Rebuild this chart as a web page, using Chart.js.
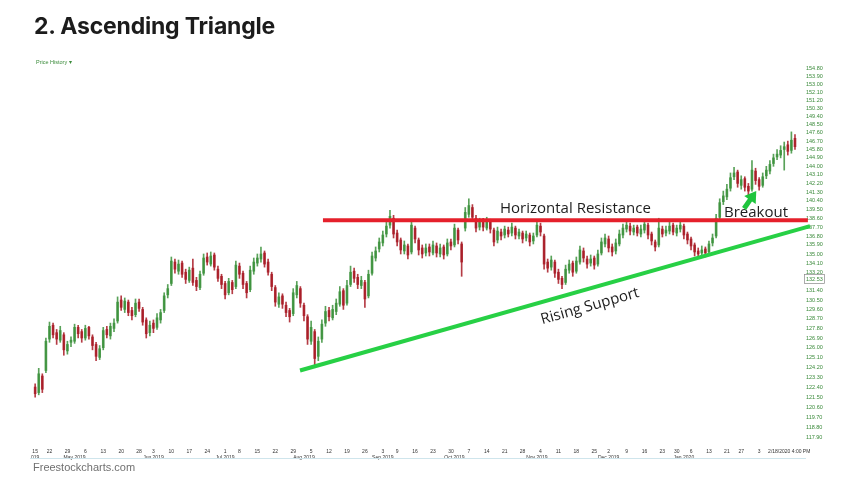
<!DOCTYPE html>
<html>
<head>
<meta charset="utf-8">
<title>2. Ascending Triangle</title>
<script src="https://cdn.jsdelivr.net/npm/chart.js@4.4.1/dist/chart.umd.min.js"></script>
<style>
  html, body { margin: 0; padding: 0; background: #fff; }
  #wrap { position: relative; width: 845px; height: 482px; overflow: hidden; }
  #title { position: absolute; left: 34px; top: 12px; font: 700 23px Inter, "Noto Sans", sans-serif; color: #1c1c1c; letter-spacing: -0.2px; }
  #ph { position: absolute; left: 36px; top: 59px; font: 5.5px "Liberation Sans", sans-serif; color: #3c8c3c; }
  #src { position: absolute; left: 33px; top: 461px; font: 11px "Liberation Sans", Arial, sans-serif; color: #707070; }
  canvas { position: absolute; left: 0; top: 0; }
</style>
</head>
<body>
<div id="wrap">
  <canvas id="chart" width="845" height="482"></canvas>
  <div id="title">2. Ascending Triangle</div>
  <div id="ph">Price History ▾</div>
  <div id="src">Freestockcharts.com</div>
</div>
<script>
// week start labels (day of month) and trading days in each week, Apr 15 2019 -> Feb 18 2020
var weekLabels = ['15','22','29','6','13','20','28','3','10','17','24','1','8','15','22','29','5','12','19','26',
  '3','9','16','23','30','7','14','21','28','4','11','18','25','2','9','16','23','30','6','13','21','27','3','',''];
var weekDays = [4,5,5,5,5,5,4,5,5,5,5,4,5,5,5,5,5,5,5,5,4,5,5,5,5,5,5,5,5,5,5,5,4,5,5,5,4,4,5,5,4,5,5,5,1];
var monthStarts = [0, 11, 33, 53, 75, 97, 117, 140, 160, 181];
var monthLabels = ['019','May 2019','Jun 2019','Jul 2019','Aug 2019','Sep 2019','Oct 2019','Nov 2019','Dec 2019','Jan 2020'];

var yTicks = [117.90,118.80,119.70,120.60,121.50,122.40,123.30,124.20,125.10,126.00,126.90,127.80,128.70,129.60,
  130.50,131.40,132.53,133.20,134.10,135.00,135.90,136.80,137.70,138.60,139.50,140.40,141.30,142.20,143.10,
  144.00,144.90,145.80,146.70,147.60,148.50,149.40,150.30,151.20,152.10,153.00,153.90,154.80];
var lastPrice = 132.53;

var opens = [122.4,121.9,123.4,123.9,126.8,128.1,127.4,126.7,127.2,125.7,126.5,126.6,127.9,127.5,126.9,127.9,127.0,126.3,125.1,126.0,
  127.7,127.1,127.8,128.5,130.5,129.6,130.3,129.5,129.1,130.3,129.6,128.6,127.4,128.3,127.9,128.6,129.5,131.0,132.1,134.2,
  133.3,134.1,133.2,132.4,133.6,132.4,131.7,133.1,134.7,134.0,134.9,133.5,132.8,132.1,131.2,132.2,131.8,133.8,133.1,132.1,
  131.5,133.3,134.1,134.5,135.1,134.2,133.0,131.7,130.1,130.9,130.0,129.5,129.2,131.0,131.6,130.0,128.9,126.6,127.5,125.2,
  126.8,128.3,129.5,128.8,129.4,130.1,131.4,130.2,132.0,133.3,132.7,131.9,132.2,130.9,133.1,134.6,135.5,136.1,137.0,137.9,
  138.6,137.1,136.4,135.3,135.8,135.2,137.6,136.4,135.6,135.1,135.7,135.1,135.8,135.0,135.7,135.0,136.2,135.9,137.4,136.0,
  137.6,139.0,139.7,138.6,137.7,138.3,137.6,138.2,137.4,136.4,137.2,136.9,137.4,137.1,137.6,136.8,137.1,136.6,136.9,136.3,
  136.9,137.8,136.8,134.2,133.7,134.2,133.2,132.6,132.2,133.4,134.1,133.3,134.2,135.3,134.5,134.1,134.6,134.0,135.1,136.0,
  136.5,135.7,135.3,136.0,136.9,137.5,137.8,137.2,137.7,137.0,137.4,137.9,137.0,136.2,135.9,137.5,137.1,137.3,137.9,137.1,
  137.5,137.8,137.0,136.5,135.9,135.3,135.1,135.5,135.2,136.1,136.8,138.7,140.3,140.8,141.7,142.9,143.4,142.0,142.7,141.9,
  141.6,143.5,142.6,142.0,143.0,143.5,144.3,145.0,145.2,145.8,146.3,145.7,147.0];
var highs = [122.7,124.1,123.6,126.9,128.4,128.3,127.7,128.0,127.4,126.6,127.0,128.2,128.1,127.7,128.1,128.0,127.2,126.5,126.2,127.9,
  128.0,128.3,128.7,130.8,130.9,130.7,130.5,129.8,130.6,130.6,129.8,128.8,128.5,128.6,129.2,129.6,131.2,132.0,134.7,134.5,
  134.4,134.3,133.5,133.7,134.5,132.7,133.3,135.0,135.1,135.2,135.1,133.8,133.0,132.3,132.6,132.4,134.3,134.1,133.3,132.3,
  133.8,134.6,135.0,135.7,135.3,134.5,133.2,131.9,131.2,131.1,130.3,129.7,131.6,132.3,131.8,130.2,129.1,128.5,127.7,127.0,
  128.6,129.9,129.8,130.0,130.6,131.8,131.6,132.4,133.8,133.6,133.0,132.8,132.4,133.4,135.2,135.7,136.6,137.3,138.3,139.4,
  138.9,137.4,136.6,136.3,136.0,138.4,137.8,136.6,135.9,136.0,136.0,136.3,136.1,136.0,135.9,136.5,136.5,138.0,137.6,136.2,
  139.7,140.6,140.0,138.9,138.6,138.6,138.7,138.5,137.6,137.7,137.5,137.8,137.7,138.1,137.8,137.5,137.3,137.3,137.1,137.1,
  138.4,138.1,137.0,134.5,134.8,134.4,133.5,132.8,133.9,134.4,134.3,134.7,135.8,135.6,134.8,134.9,134.8,135.4,136.6,137.0,
  136.8,136.0,136.5,137.4,138.0,138.4,138.1,137.9,137.9,137.9,138.4,138.1,137.2,136.4,138.6,137.8,137.8,138.2,138.1,137.9,
  138.3,138.0,137.2,136.7,136.1,135.6,135.8,135.7,136.3,137.0,139.0,140.6,141.4,142.1,143.3,143.9,143.6,143.0,142.9,142.2,
  144.6,143.8,142.8,143.3,144.0,144.6,145.3,145.8,146.2,146.6,146.7,147.7,147.4];
var lows = [121.5,121.7,121.9,123.7,126.5,126.9,126.3,126.5,125.3,125.4,126.1,126.4,126.9,126.5,126.7,126.8,125.8,124.8,124.9,125.8,
  126.9,126.8,127.5,128.3,129.5,129.3,129.0,128.6,128.9,129.4,128.1,126.9,127.1,127.4,127.7,128.3,129.3,130.7,131.9,133.1,
  133.0,132.7,132.1,132.2,131.9,131.4,131.5,132.9,133.9,133.8,133.4,132.3,131.6,130.6,131.0,131.1,131.6,132.6,131.6,130.7,
  131.3,133.0,133.8,134.2,133.7,132.9,131.4,129.9,129.8,129.7,128.9,128.4,129.0,130.7,129.8,128.5,126.3,126.3,124.4,124.8,
  126.5,128.0,128.5,128.6,129.1,129.9,129.6,130.0,131.8,132.2,131.6,131.6,129.8,130.7,132.9,134.3,135.2,135.8,136.7,137.6,
  136.6,135.8,135.0,135.0,134.5,135.0,136.1,134.9,134.6,134.8,134.8,134.9,134.7,134.7,134.5,134.8,135.4,135.7,136.0,132.8,
  137.3,138.7,138.3,137.2,137.4,137.3,137.4,137.1,135.8,136.1,136.4,136.6,136.7,136.8,136.5,136.5,136.1,136.3,135.8,136.0,
  136.7,136.8,133.5,133.2,133.4,132.7,132.1,131.6,132.0,133.1,132.8,133.1,134.0,134.2,133.6,133.8,133.5,133.8,134.9,135.7,
  135.2,134.8,135.0,135.8,136.6,137.2,136.9,136.9,136.8,136.7,137.1,136.5,135.9,135.3,135.7,136.7,136.8,137.0,136.9,136.8,
  137.2,136.5,136.0,135.4,134.8,134.6,134.8,134.7,135.0,135.8,136.6,138.5,140.0,140.5,141.4,142.6,141.8,141.6,141.4,140.9,
  141.4,142.1,141.5,141.8,142.7,143.2,144.0,144.7,144.9,143.6,145.2,145.4,145.8];
var closes = [121.8,123.6,122.2,126.6,128.0,127.2,126.8,127.6,125.8,126.3,126.7,127.9,127.3,126.9,127.8,127.1,126.2,125.2,125.9,127.6,
  127.2,128.0,128.3,130.3,129.8,130.4,129.3,129.0,130.2,129.7,128.4,127.3,128.1,127.8,128.8,129.3,130.9,131.6,134.3,133.5,
  134.0,133.0,132.5,133.4,132.2,131.8,133.0,134.6,134.2,134.8,133.7,132.6,132.0,131.0,132.3,131.5,133.9,133.0,132.0,131.2,
  133.4,134.2,134.6,135.0,134.0,133.2,131.8,130.3,130.8,130.1,129.3,128.9,131.2,131.9,130.2,129.0,126.8,127.9,125.0,126.6,
  128.2,129.4,128.9,129.6,130.2,131.3,130.0,131.9,133.2,132.6,132.0,132.4,130.6,133.0,134.8,135.3,136.2,136.9,137.8,138.8,
  137.0,136.2,135.4,135.9,134.9,137.9,136.5,135.4,135.0,135.6,135.2,135.9,135.1,135.6,134.9,136.1,135.8,137.6,136.4,134.2,
  139.2,139.9,138.7,137.6,138.2,137.7,138.3,137.5,136.2,137.3,136.8,137.5,137.0,137.7,136.9,137.2,136.5,137.0,136.2,136.8,
  137.9,137.2,134.0,133.6,134.4,133.1,132.5,132.0,133.5,134.0,133.2,134.3,135.4,134.6,134.0,134.5,133.9,135.0,136.2,136.6,
  135.6,135.2,136.1,137.0,137.6,137.9,137.3,137.6,137.1,137.5,138.0,136.9,136.3,135.7,137.6,137.0,137.4,137.8,137.2,137.6,
  137.9,136.9,136.4,135.8,135.2,135.0,135.4,135.1,136.0,136.6,138.6,140.2,140.9,141.6,142.8,143.3,142.2,142.6,141.8,141.4,
  143.6,142.5,141.9,142.9,143.6,144.2,144.9,145.3,145.7,146.1,145.6,146.8,146.1];

// trend lines: [index, price]
var resistance = [[80.3, 138.4], [215.6, 138.4]];
var support = [[73.9, 123.9], [216.2, 137.8]];

var up = 'rgba(60,146,60,0.85)';
var down = 'rgba(168,26,36,0.85)';

// tick positions from the week table
var weekStart = [];
var n = 0;
for (var w = 0; w < weekDays.length; w++) { weekStart.push(n); n += weekDays[w]; }
var xTickIdx = weekStart.concat(monthStarts.filter(function (m) { return weekStart.indexOf(m) < 0; }));

function xLabel(v) {
  var wi = weekStart.indexOf(v), mi = monthStarts.indexOf(v);
  var day = wi >= 0 ? weekLabels[wi] : '';
  if (mi >= 0) return [day, monthLabels[mi]];
  return day;
}

var colors = closes.map(function (c, i) { return c >= opens[i] ? up : down; });

var notes = {
  id: 'notes',
  afterDraw: function (chart) {
    var c = chart.ctx, x = chart.scales.x, y = chart.scales.y, a = chart.chartArea;
    c.save();
    // axis line under the dates
    c.strokeStyle = '#cfe5ec';
    c.lineWidth = 1;
    c.beginPath(); c.moveTo(30, a.bottom + 12.5); c.lineTo(806, a.bottom + 12.5); c.stroke();

    // last price box
    var by = y.getPixelForValue(lastPrice);
    c.strokeStyle = '#888';
    c.lineWidth = 0.7;
    c.strokeRect(a.right + 4.5, by - 4.5, 20, 9);

    // timestamp
    c.fillStyle = '#333';
    c.font = '5px "Liberation Sans"';
    c.textBaseline = 'top';
    c.fillText('2/18/2020 4:00 PM', x.getPixelForValue(204.5), a.bottom + 3);

    c.fillStyle = '#1e1e1e';
    c.font = '15px "Open Sans"';
    c.textBaseline = 'middle';
    c.fillText('Horizontal Resistance', x.getPixelForValue(129.7), y.getPixelForValue(139.6));
    c.fillText('Breakout', x.getPixelForValue(192.2), y.getPixelForValue(139.2));

    // label along the rising support line
    var x1 = x.getPixelForValue(support[0][0]), y1 = y.getPixelForValue(support[0][1]);
    var x2 = x.getPixelForValue(support[1][0]), y2 = y.getPixelForValue(support[1][1]);
    c.save();
    c.translate(x.getPixelForValue(154.8), y.getPixelForValue(129.9));
    c.rotate(Math.atan2(y2 - y1, x2 - x1));
    c.textAlign = 'center';
    c.fillText('Rising Support', 0, 0);
    c.restore();

    // breakout arrow
    var tx = x.getPixelForValue(197.8), ty = y.getPixelForValue(139.6);
    var hx = x.getPixelForValue(201.2), hy = y.getPixelForValue(141.4);
    var ang = Math.atan2(hy - ty, hx - tx);
    c.fillStyle = '#1fc43d';
    c.strokeStyle = '#1fc43d';
    c.lineWidth = 5;
    c.beginPath();
    c.moveTo(tx, ty);
    c.lineTo(hx - 8 * Math.cos(ang), hy - 8 * Math.sin(ang));
    c.stroke();
    c.beginPath();
    c.moveTo(hx, hy);
    c.lineTo(hx - 11 * Math.cos(ang) + 7 * Math.sin(ang), hy - 11 * Math.sin(ang) - 7 * Math.cos(ang));
    c.lineTo(hx - 11 * Math.cos(ang) - 7 * Math.sin(ang), hy - 11 * Math.sin(ang) + 7 * Math.cos(ang));
    c.closePath();
    c.fill();
    c.restore();
  }
};

new Chart(document.getElementById('chart').getContext('2d'), {
  data: {
    datasets: [{
      type: 'line',
      data: resistance.map(function (p) { return { x: p[0], y: p[1] }; }),
      borderColor: '#e5202b',
      borderWidth: 4,
      pointRadius: 0,
      clip: false,
      order: 0
    }, {
      type: 'line',
      data: support.map(function (p) { return { x: p[0], y: p[1] }; }),
      borderColor: '#27d045',
      borderWidth: 4,
      pointRadius: 0,
      clip: false,
      order: 0
    }, {
      type: 'bar',
      data: closes.map(function (c, i) { return { x: i, y: [opens[i], c] }; }),
      backgroundColor: colors,
      barThickness: 2,
      grouped: false,
      order: 1
    }, {
      type: 'bar',
      data: highs.map(function (h, i) { return { x: i, y: [lows[i], h] }; }),
      backgroundColor: colors,
      barThickness: 1,
      grouped: false,
      order: 2
    }]
  },
  options: {
    responsive: false,
    animation: false,
    layout: { padding: { left: 33, top: 62, right: 0, bottom: 0 } },
    plugins: { legend: { display: false }, tooltip: { enabled: false } },
    scales: {
      x: {
        type: 'linear',
        min: -0.6,
        max: 213.4,
        offset: false,
        bounds: 'data',
        grid: { display: false, drawTicks: false, offset: false },
        border: { display: false },
        afterBuildTicks: function (axis) { axis.ticks = xTickIdx.map(function (v) { return { value: v }; }); },
        afterFit: function (axis) { axis.height = 36; axis.paddingLeft = 0; axis.paddingRight = 0; },
        ticks: {
          autoSkip: false,
          maxRotation: 0,
          padding: 3,
          color: '#333',
          font: { size: 5, family: 'Liberation Sans', lineHeight: 1.1 },
          callback: function (v) { return xLabel(v); }
        }
      },
      y: {
        type: 'logarithmic',
        position: 'right',
        min: 117.2,
        max: 155.5,
        bounds: 'data',
        grid: { display: false, drawTicks: false },
        border: { display: false },
        afterBuildTicks: function (axis) { axis.ticks = yTicks.map(function (v) { return { value: v }; }); },
        afterFit: function (axis) { axis.width = 45; },
        ticks: {
          autoSkip: false,
          padding: 6,
          color: '#3a8a3a',
          font: { size: 5.5, family: 'Liberation Sans' },
          callback: function (v) { return Number(v).toFixed(2); }
        }
      }
    }
  },
  plugins: [notes]
});
</script>
</body>
</html>
